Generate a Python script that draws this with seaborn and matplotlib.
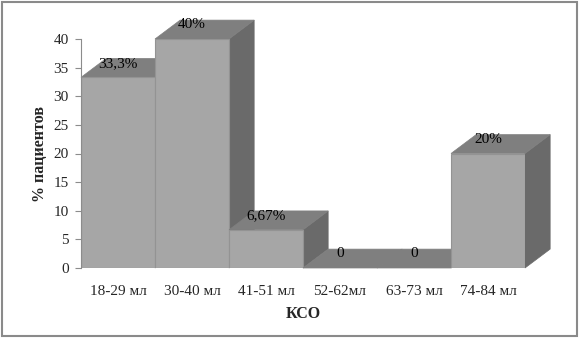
import matplotlib
matplotlib.use('Agg')
import matplotlib.pyplot as plt
from matplotlib.patches import Polygon, Rectangle
import seaborn as sns
import pandas as pd

# data
categories = ['18-29 мл', '30-40 мл', '41-51 мл', '52-62мл', '63-73 мл', '74-84 мл']
values = [33.3, 40, 6.67, 0, 0, 20]
labels = ['33,3%', '40%', '6,67%', '0', '0', '20%']

df = pd.DataFrame({'group': categories, 'pct': values})

sns.set_style('white')
plt.rcParams['font.family'] = ['Liberation Serif', 'DejaVu Serif']

front_col = '#a6a6a6'
top_col = '#7f7f7f'
side_col = '#6a6a6a'
edge_col = '#939393'

# depth of the fake 3d bars (data units)
dx = 0.34
dy = 3.3

fig = plt.figure(figsize=(5.8, 3.38), dpi=100)
ax = fig.add_axes([81 / 580, 70 / 338, 444 / 580, 229 / 338])

sns.barplot(data=df, x='group', y='pct', width=1.0, color=front_col, saturation=1,
            edgecolor=edge_col, linewidth=0.8, ax=ax)

half = 0.5
for i, (p, v) in enumerate(zip(ax.patches, values)):
    base_z = 2 + i * 0.1
    x0 = i - half
    x1 = i + half
    # side face
    side = Polygon([(x1, 0), (x1 + dx, dy), (x1 + dx, v + dy), (x1, v)],
                   closed=True, facecolor=side_col, edgecolor=side_col, lw=0.5,
                   clip_on=False, zorder=base_z)
    ax.add_patch(side)
    # top face
    top = Polygon([(x0, v), (x0 + dx, v + dy), (x1 + dx, v + dy), (x1, v)],
                  closed=True, facecolor=top_col, edgecolor=top_col, lw=0.5,
                  clip_on=False, zorder=base_z + 0.01)
    ax.add_patch(top)
    p.set_zorder(base_z + 0.02)
    if v == 0:
        p.set_visible(False)
    ax.text(i, v + 2.45, labels[i], ha='center', va='center', fontsize=11,
            color='black', zorder=10)

ax.set_xlim(-0.5, 5.5)
ax.set_ylim(0, 40)
ax.set_yticks(range(0, 41, 5))

for s in ['top', 'right', 'bottom']:
    ax.spines[s].set_visible(False)
ax.spines['left'].set_color('#8c8c8c')
ax.spines['left'].set_linewidth(0.8)

ax.tick_params(axis='y', direction='out', length=4, width=0.8, color='#8c8c8c',
               labelsize=11, pad=5, left=True)
ax.tick_params(axis='x', length=0, labelsize=11, pad=12)

ax.set_xlabel('КСО', fontsize=11.5, fontweight='bold', labelpad=6)
ax.set_ylabel('% пациентов', fontsize=11.5, fontweight='bold', labelpad=4)

# frame around the whole picture
fig.patches.append(Rectangle((1.5 / 580, 2 / 338), 575.5 / 580, 334.5 / 338,
                             transform=fig.transFigure, fill=False,
                             edgecolor='#8a8a8a', linewidth=1.5))

fig.savefig('out.png', dpi=100)
